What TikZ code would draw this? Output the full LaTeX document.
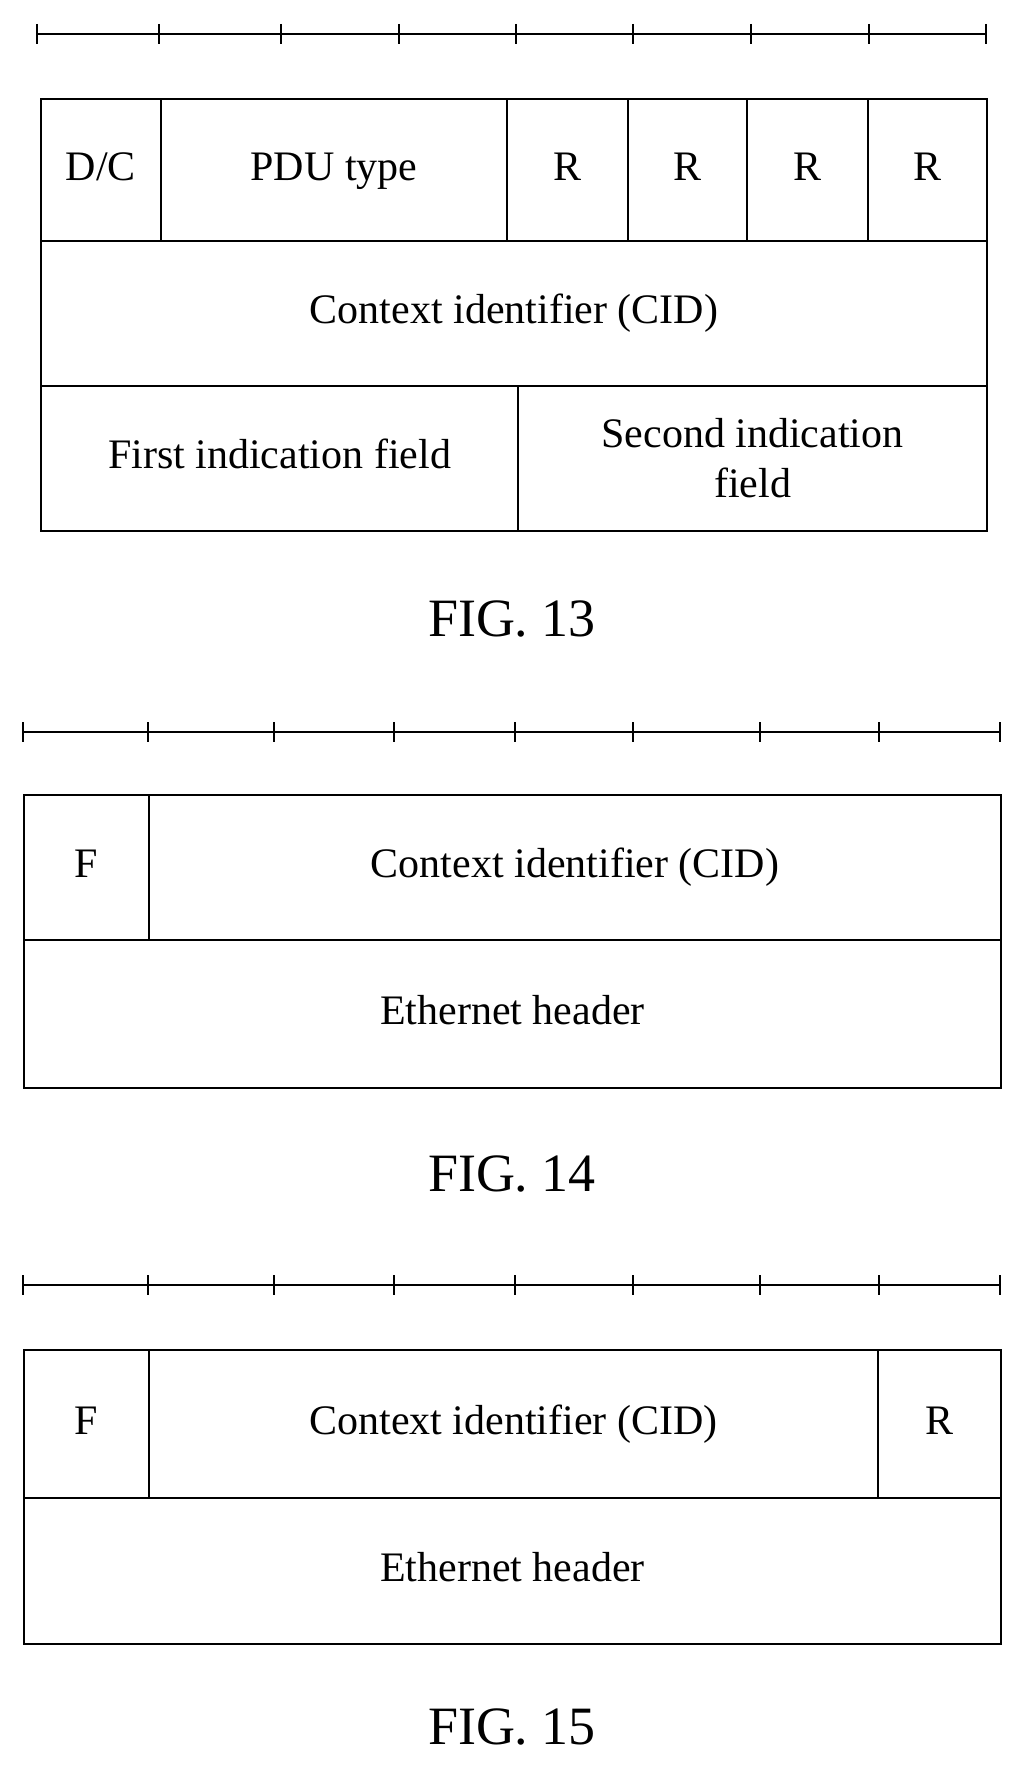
\documentclass[tikz,border=0pt]{standalone}
\usepackage{fontspec}
\setmainfont{Liberation Serif}
\usetikzlibrary{positioning}
\begin{document}
\begin{tikzpicture}[x=1pt, y=-1pt,
        cell/.style={rectangle, draw, line width=2pt, inner sep=0pt, text centered, align=center, font=\fontsize{42}{50}\selectfont, anchor=north west},
        caption/.style={font=\fontsize{54}{60}\selectfont},
        ruler/.style={line width=1.8pt}
    ]
    \useasboundingbox (0,0) rectangle (1022,1769);

    % FIG. 13 ruler
    \draw[ruler] (37,34) -- (986,34);
    \foreach \t in {37,159,281,399,516,633,751,869,986}
        \draw[ruler] (\t,24) -- (\t,44);

    % FIG. 13 fields
    \node[cell, minimum width=120, minimum height=142] (dc) at (40,98) {\strut D/C};
    \node[cell, minimum width=346, minimum height=142] (pdu) at (160,98) {\strut PDU type};
    \node[cell, minimum width=121, minimum height=142] (r1) at (506,98) {\strut R};
    \node[cell, minimum width=119, minimum height=142] (r2) at (627,98) {\strut R};
    \node[cell, minimum width=121, minimum height=142] (r3) at (746,98) {\strut R};
    \node[cell, minimum width=119, minimum height=142] (r4) at (867,98) {\strut R};
    \node[cell, minimum width=946, minimum height=145] (cid) at (40,240) {\strut Context identifier (CID)};
    \node[cell, minimum width=477, minimum height=145] (first) at (40,385) {\strut First indication field};
    \node[cell, minimum width=469, minimum height=145] (second) at (517,385) {Second indication\\field};
    \node[caption] (fig13) at (512,619) {FIG. 13};

    % FIG. 14 ruler
    \draw[ruler] (23,732) -- (1000,732);
    \foreach \t in {23,148,274,394,515,633,760,879,1000}
        \draw[ruler] (\t,722) -- (\t,742);

    % FIG. 14 fields
    \node[cell, minimum width=125, minimum height=145] (f14) at (23,794) {\strut F};
    \node[cell, minimum width=852, minimum height=145] (cid14) at (148,794) {\strut Context identifier (CID)};
    \node[cell, minimum width=977, minimum height=148] (eth14) at (23,939) {\strut Ethernet header};
    \node[caption] (fig14) at (512,1174) {FIG. 14};

    % FIG. 15 ruler
    \draw[ruler] (23,1285) -- (1000,1285);
    \foreach \t in {23,148,274,394,515,633,760,879,1000}
        \draw[ruler] (\t,1275) -- (\t,1295);

    % FIG. 15 fields
    \node[cell, minimum width=125, minimum height=148] (f15) at (23,1349) {\strut F};
    \node[cell, minimum width=729, minimum height=148] (cid15) at (148,1349) {\strut Context identifier (CID)};
    \node[cell, minimum width=123, minimum height=148] (r15) at (877,1349) {\strut R};
    \node[cell, minimum width=977, minimum height=146] (eth15) at (23,1497) {\strut Ethernet header};
    \node[caption] (fig15) at (512,1727) {FIG. 15};
\end{tikzpicture}
\end{document}
